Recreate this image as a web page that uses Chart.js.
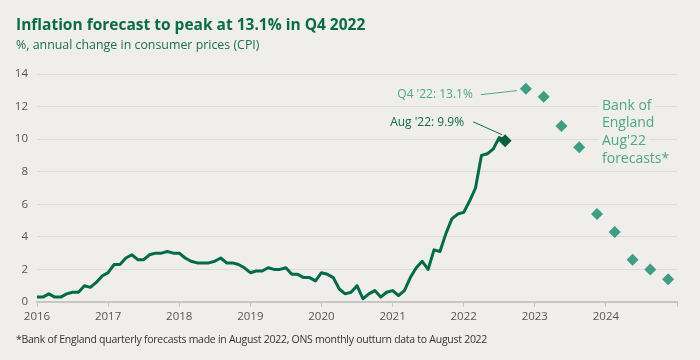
<!DOCTYPE html>
<html>
<head>
<meta charset="utf-8">
<script src="https://cdn.jsdelivr.net/npm/chart.js@4.4.0/dist/chart.umd.min.js"></script>
<style>
    html, body { margin: 0; padding: 0; background: #efeeeb; }
    #wrap { position: relative; width: 700px; height: 360px; }
</style>
</head>
<body>
<div id="wrap"><canvas id="chart"></canvas></div>
<script>
// CPI annual rate, monthly from Jan 2016 to Aug 2022
const cpiStartYear = 2016;
const cpiValues = [
    0.3, 0.3, 0.5, 0.3, 0.3, 0.5, 0.6, 0.6, 1.0, 0.9, 1.2, 1.6,
    1.8, 2.3, 2.3, 2.7, 2.9, 2.6, 2.6, 2.9, 3.0, 3.0, 3.1, 3.0,
    3.0, 2.7, 2.5, 2.4, 2.4, 2.4, 2.5, 2.7, 2.4, 2.4, 2.3, 2.1,
    1.8, 1.9, 1.9, 2.1, 2.0, 2.0, 2.1, 1.7, 1.7, 1.5, 1.5, 1.3,
    1.8, 1.7, 1.5, 0.8, 0.5, 0.6, 1.0, 0.2, 0.5, 0.7, 0.3, 0.6,
    0.7, 0.4, 0.7, 1.5, 2.1, 2.5, 2.0, 3.2, 3.1, 4.2, 5.1, 5.4,
    5.5, 6.2, 7.0, 9.0, 9.1, 9.4, 10.1, 9.9
];

// Bank of England Aug '22 quarterly forecasts
const forecastQuarters = ['2022Q4', '2023Q1', '2023Q2', '2023Q3', '2023Q4', '2024Q1', '2024Q2', '2024Q3', '2024Q4'];
const forecastValues = [13.1, 12.6, 10.8, 9.5, 5.4, 4.3, 2.6, 2.0, 1.4];

const yearLabels = ['2016', '2017', '2018', '2019', '2020', '2021', '2022', '2023', '2024'];
const yTicks = [0, 2, 4, 6, 8, 10, 12, 14];

const titleText = 'Inflation forecast to peak at 13.1% in Q4 2022';
const subtitleText = '%, annual change in consumer prices (CPI)';
const footnoteText = '*Bank of England quarterly forecasts made in August 2022, ONS monthly outturn data to August 2022';
const latestLabel = "Aug '22: 9.9%";
const peakLabel = "Q4 '22: 13.1%";
const forecastNote = ['Bank of', 'England', "Aug'22", 'forecasts*'];

const DARK = '#006a4a';
const TEAL = '#3f9d83';
const TEAL_TEXT = '#4ea68b';
const BG = '#efeeeb';

// months since Jan 2016
const cpiPoints = cpiValues.map((v, i) => ({ x: i, y: v }));
const quarterMid = q => {
    const yr = parseInt(q.slice(0, 4), 10);
    const qn = parseInt(q.slice(5), 10);
    return (yr - cpiStartYear) * 12 + (qn - 1) * 3 + 1.5;
};
const forecastPoints = forecastQuarters.map((q, i) => ({ x: quarterMid(q), y: forecastValues[i] }));
const latestPoint = cpiPoints[cpiPoints.length - 1];

const textPlugin = {
    id: 'texts',
    afterDraw(chart) {
        const ctx = chart.ctx;
        ctx.save();
        ctx.textBaseline = 'alphabetic';
        ctx.textAlign = 'left';
        ctx.fillStyle = '#0b6a4a';
        ctx.font = 'bold 15.5px "Open Sans"';
        ctx.fillText(titleText, 16, 30);
        ctx.fillStyle = '#1d6e50';
        ctx.font = '12.4px "Open Sans"';
        ctx.fillText(subtitleText, 16, 49);
        ctx.fillStyle = '#333333';
        ctx.font = '10.5px "Open Sans"';
        ctx.letterSpacing = '-0.27px';
        ctx.fillText(footnoteText, 16, 343);
        ctx.restore();
    }
};

const annotationPlugin = {
    id: 'notes',
    afterDatasetsDraw(chart) {
        const { ctx, scales: { x, y } } = chart;
        ctx.save();

        // peak forecast label
        const px = x.getPixelForValue(forecastPoints[0].x);
        const py = y.getPixelForValue(forecastPoints[0].y);
        ctx.font = '12px "Open Sans"';
        ctx.textAlign = 'right';
        ctx.textBaseline = 'middle';
        ctx.fillStyle = TEAL_TEXT;
        ctx.fillText(peakLabel, px - 53, py + 6);
        ctx.strokeStyle = TEAL_TEXT;
        ctx.lineWidth = 1;
        ctx.beginPath();
        ctx.moveTo(px - 45, py + 6);
        ctx.lineTo(px - 9, py + 2);
        ctx.stroke();

        // latest outturn label
        const lx = x.getPixelForValue(latestPoint.x);
        const ly = y.getPixelForValue(latestPoint.y);
        ctx.fillStyle = '#12694b';
        ctx.fillText(latestLabel, lx - 41, ly - 18);
        ctx.strokeStyle = '#12694b';
        ctx.beginPath();
        ctx.moveTo(lx - 32, ly - 19);
        ctx.lineTo(lx - 3, ly - 6);
        ctx.stroke();

        // forecast note
        ctx.font = '14px "Open Sans"';
        ctx.textAlign = 'left';
        ctx.textBaseline = 'alphabetic';
        const nx = 602;
        forecastNote.forEach((line, i) => {
            const by = 109.5 + i * 17.7;
            const w = ctx.measureText(line).width;
            ctx.fillStyle = BG;
            ctx.fillRect(nx - 3, by - 13, w + 6, 17);
            ctx.fillStyle = TEAL_TEXT;
            ctx.fillText(line, nx, by);
        });
        ctx.restore();
    }
};

new Chart(document.getElementById('chart'), {
    type: 'line',
    data: {
        datasets: [
            {
                label: 'Aug 22',
                data: [latestPoint],
                showLine: false,
                pointStyle: 'rectRot',
                pointRadius: 6.5,
                backgroundColor: '#0b5d3f',
                borderColor: '#0b5d3f',
                borderWidth: 0
            },
            {
                label: 'CPI',
                data: cpiPoints,
                borderColor: DARK,
                borderWidth: 3,
                pointRadius: 0,
                tension: 0,
                borderJoinStyle: 'round',
                fill: false
            },
            {
                label: 'Forecast',
                data: forecastPoints,
                showLine: false,
                pointStyle: 'rectRot',
                pointRadius: 6,
                backgroundColor: TEAL,
                borderColor: TEAL,
                borderWidth: 0
            }
        ]
    },
    options: {
        responsive: true,
        maintainAspectRatio: false,
        animation: false,
        devicePixelRatio: 1,
        layout: { padding: { top: 74, right: 23, bottom: 32, left: 0 } },
        plugins: {
            legend: { display: false },
            tooltip: { enabled: false }
        },
        scales: {
            x: {
                type: 'linear',
                min: 0,
                max: 108,
                afterFit: s => { s.height = 26; },
                afterBuildTicks: s => { s.ticks = yearLabels.map((_, i) => ({ value: i * 12 })).concat([{ value: 108 }]); },
                grid: { drawOnChartArea: false, drawTicks: true, tickLength: 5, color: '#c6c6c4' },
                border: { display: true, color: '#c6c6c4', width: 2 },
                ticks: {
                    autoSkip: false,
                    maxRotation: 0,
                    padding: 3,
                    color: '#555555',
                    font: { family: 'Open Sans', size: 11.5 },
                    callback: v => yearLabels[v / 12] || ''
                }
            },
            y: {
                min: 0,
                max: 14,
                afterFit: s => { s.width = 37; },
                afterBuildTicks: s => { s.ticks = yTicks.map(v => ({ value: v })); },
                grid: { drawTicks: false, color: '#dcdcda' },
                border: { display: false },
                ticks: {
                    padding: 9,
                    color: '#555555',
                    font: { family: 'Open Sans', size: 11.5 }
                }
            }
        }
    },
    plugins: [textPlugin, annotationPlugin]
});
</script>
</body>
</html>
